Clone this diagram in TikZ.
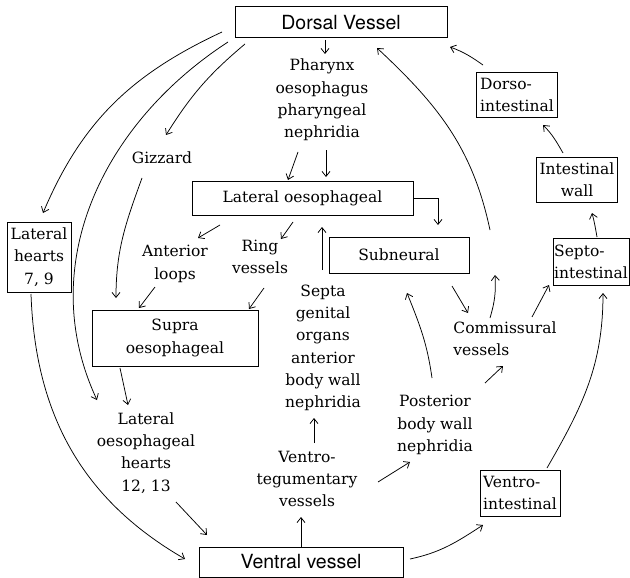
\documentclass[tikz,border=0pt]{standalone}
\usepackage{fontspec}
\usepackage{tikz}
\usetikzlibrary{arrows.meta}
\usetikzlibrary{positioning}

\setmainfont{DejaVu Serif}
\newfontfamily\headfont{TeX Gyre Heros}
\newcommand{\bodysize}{\fontsize{15.5}{22.3}\selectfont}

\tikzset{
  vessel/.style={draw, line width=1pt, minimum height=31pt,
    font=\headfont\fontsize{19.5}{23}\selectfont},
  organ/.style={draw, line width=1pt, inner sep=2pt, align=center, font=\bodysize},
  site/.style={align=center, font=\bodysize},
  flow/.style={-{Straight Barb[length=5pt,width=8pt]}, line width=0.75pt},
}

\begin{document}
\begin{tikzpicture}[x=1pt,y=1pt]
  \useasboundingbox (0,0) rectangle (630,-578);

  % main vessels and boxed ones
  \node[vessel, minimum width=212pt] (dorsal) at (341,-22.5) {Dorsal Vessel};
  \node[vessel, minimum width=204pt, minimum height=30pt] (ventral) at (301,-562) {Ventral vessel};
  \node[organ, minimum width=221pt, minimum height=34pt] (latoes) at (302.5,-198) {Lateral oesophageal};
  \node[organ, minimum width=140pt, minimum height=36pt] (subneural) at (399,-255) {Subneural};
  \node[organ, minimum width=166pt, minimum height=56pt] (supra) at (175,-338) {Supra\\oesophageal};
  \node[organ, minimum width=64pt, minimum height=70pt] (lathearts) at (39,-257) {Lateral\\hearts\\7, 9};
  \node[organ, align=left, minimum width=81pt, minimum height=45pt] (dorsoint) at (517,-95) {Dorso-\\intestinal};
  \node[organ, minimum width=81pt, minimum height=45pt] (intwall) at (577,-180) {Intestinal\\wall};
  \node[organ, align=left, minimum width=76pt, minimum height=47pt, inner sep=1pt] (septoint) at (591,-262) {Septo-\\intestinal};
  \node[organ, align=left, minimum width=80pt, minimum height=46pt] (ventroint) at (520,-493) {Ventro-\\intestinal};

  % organs without a box
  \node[site] (pharynx) at (322,-100) {Pharynx\\oesophagus\\pharyngeal\\nephridia};
  \node[site] (gizzard) at (162,-158) {Gizzard};
  \node[site] (antloops) at (175,-264) {Anterior\\loops};
  \node[site] (ring) at (260,-257) {Ring\\vessels};
  \node[site] (septa) at (323,-348) {Septa\\genital\\organs\\anterior\\body wall\\nephridia};
  \node[site] (ventroteg) at (307,-479) {Ventro-\\tegumentary\\vessels};
  \node[site] (posterior) at (435,-425) {Posterior\\body wall\\nephridia};
  \node[site, align=left] (commis) at (505,-339) {Commissural\\vessels};
  \node[site] (latoeshearts) at (146,-453) {Lateral\\oesophageal\\hearts\\12, 13};

  % from the dorsal vessel
  \draw[flow] ([shift={(-16,-17.5)}]dorsal.center) -- ([shift={(3,46)}]pharynx.center);
  \draw[flow] ([shift={(-119,-9.5)}]dorsal.center) to[out=205,in=67] ([shift={(4,44)}]lathearts.center);
  \draw[flow] ([shift={(-113,-19.5)}]dorsal.center) to[out=213,in=115] ([shift={(-49,53)}]latoeshearts.center);
  \draw[flow] ([shift={(-96,-21.5)}]dorsal.center) to[out=220,in=58] ([shift={(4,23)}]gizzard.center);

  % anterior part
  \draw[flow] ([shift={(-24,-52)}]pharynx.center) -- ([shift={(-14.5,18)}]latoes.center);
  \draw[flow] ([shift={(4,-50)}]pharynx.center) -- ([shift={(23.5,21)}]latoes.center);
  \draw[flow] (latoes.east) -| ([shift={(39,30)}]subneural.center);
  \draw[flow] ([shift={(-1,78)}]septa.center) -- ([shift={(19.5,-29)}]latoes.center);
  \draw[flow] ([shift={(-82.5,-27)}]latoes.center) -- ([shift={(23,26)}]antloops.center);
  \draw[flow] ([shift={(-9.5,-24)}]latoes.center) -- ([shift={(21,18)}]ring.center);
  \draw[flow] ([shift={(-20,-20)}]gizzard.center) to[out=250,in=90] ([shift={(-59,40)}]supra.center);
  \draw[flow] ([shift={(-20,-23)}]antloops.center) -- ([shift={(-36,30)}]supra.center);
  \draw[flow] ([shift={(4,-31)}]ring.center) -- ([shift={(74,29)}]supra.center);
  \draw[flow] ([shift={(-55,-30)}]supra.center) -- ([shift={(-18,48)}]latoeshearts.center);

  % into the ventral vessel
  \draw[flow] ([shift={(30,-49)}]latoeshearts.center) -- ([shift={(-94,27)}]ventral.center);
  \draw[flow] ([shift={(-8,-37)}]lathearts.center) to[out=272,in=150] ([shift={(-116,3)}]ventral.center);

  % posterior part
  \draw[flow] (ventral.north) -- ([shift={(-6,-38)}]ventroteg.center);
  \draw[flow] ([shift={(7,36)}]ventroteg.center) -- ([shift={(-9,-70)}]septa.center);
  \draw[flow] ([shift={(71,-3)}]ventroteg.center) -- ([shift={(-25,-37)}]posterior.center);
  \draw[flow] ([shift={(-3,47)}]posterior.center) to[out=98,in=-68] ([shift={(8,-38)}]subneural.center);
  \draw[flow] ([shift={(50,42)}]posterior.center) -- ([shift={(-2,-27)}]commis.center);
  \draw[flow] ([shift={(53,-31)}]subneural.center) -- ([shift={(-37,26)}]commis.center);
  \draw[flow] ([shift={(-15,21)}]commis.center) to[bend right=10] ([shift={(-10,64)}]commis.center);
  \draw[flow] ([shift={(27,22)}]commis.center) -- ([shift={(-42,-23)}]septoint.center);
  \draw[flow] ([shift={(-15,109)}]commis.center) to[out=102,in=-43] ([shift={(36,-25.5)}]dorsal.center);

  % intestinal loop
  \draw[flow] ([shift={(109,3)}]ventral.center) to[out=12,in=213] ([shift={(-37,-32)}]ventroint.center);
  \draw[flow] ([shift={(27,25)}]ventroint.center) to[out=60,in=-90] ([shift={(12,-31)}]septoint.center);
  \draw[flow] ([shift={(6,25)}]septoint.center) to[out=100,in=-75] ([shift={(15,-33)}]intwall.center);
  \draw[flow] ([shift={(-14,27)}]intwall.center) to[out=120,in=-45] ([shift={(26,-30)}]dorsoint.center);
  \draw[flow] ([shift={(-34,30)}]dorsoint.center) to[out=145,in=-20] ([shift={(109,-24.5)}]dorsal.center);
\end{tikzpicture}
\end{document}
